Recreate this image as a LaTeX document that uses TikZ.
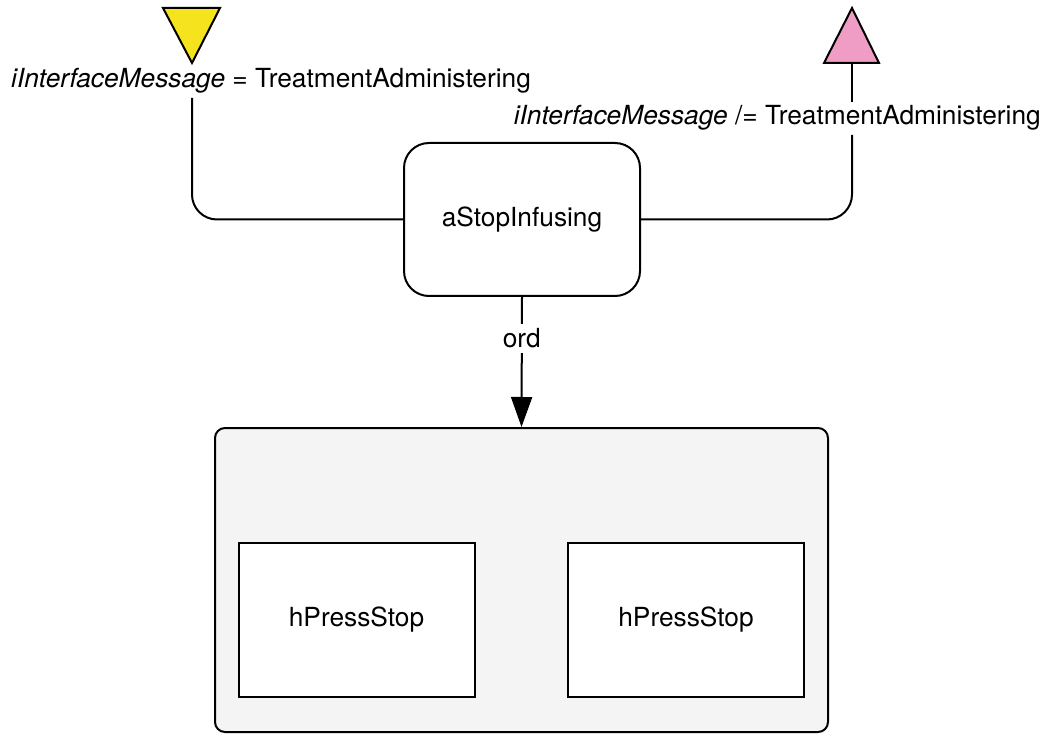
\documentclass[tikz,border=0pt]{standalone}
\usepackage{fontspec}
\setmainfont{TeX Gyre Heros}
\usetikzlibrary{arrows.meta}
\definecolor{trigyellow}{HTML}{F4E31D}
\definecolor{trigpink}{HTML}{EF9DC5}
\definecolor{groupgray}{HTML}{F4F4F4}
\begin{document}
\begin{tikzpicture}[x=1pt,y=-1pt,
  every node/.style={font=\fontsize{26.3pt}{31pt}\selectfont},
  conn/.style={line width=2pt, draw=black},
  actbox/.style={draw, line width=2pt, rounded corners=25pt, fill=white, minimum width=236pt, minimum height=153pt, inner sep=0pt},
  groupbox/.style={draw, line width=2pt, rounded corners=10pt, fill=groupgray, minimum width=613pt, minimum height=304pt, inner sep=0pt},
  leafbox/.style={draw, line width=2pt, fill=white, minimum width=236pt, minimum height=154pt, inner sep=0pt},
  guard/.style={inner sep=4pt},
  trig/.style={draw, line width=2pt, line join=miter}
]
\useasboundingbox (0,0) rectangle (1050,743);

% triangles
\coordinate (ya) at (192,63);
\coordinate (pb) at (852,63);
\draw[trig, fill=trigyellow] (163,8) -- (220,8) -- (ya) -- cycle;
\draw[trig, fill=trigpink] (824,63) -- (879,63) -- (852,8) -- cycle;

% guard labels
\node[guard, anchor=base west] (lab1) at (7,88) {\textit{iInterfaceMessage} = TreatmentAdministering};
\node[guard, anchor=base east] (lab2) at (1045,125) {\textit{iInterfaceMessage} /= TreatmentAdministering};

% nodes
\node[actbox] (act) at (522,219.5) {aStopInfusing};
\node[groupbox] (grp) at (521.5,580) {};
\node[leafbox] (p1) at (356.5,620) {hPressStop};
\node[leafbox] (p2) at (686,620) {hPressStop};

% connectors
\draw[conn, rounded corners=25pt] (ya |- lab1.south) |- (act.west);
\draw[conn, rounded corners=25pt] (act.east) -| (pb |- lab2.south);
\draw[conn] (pb |- lab2.north) -- (pb);
\draw[conn, -{Triangle[length=30pt,width=21pt]}] (act.south) -- node[pos=0.32, fill=white, inner sep=5pt] (ordl) {ord} (grp.north);
\end{tikzpicture}
\end{document}
